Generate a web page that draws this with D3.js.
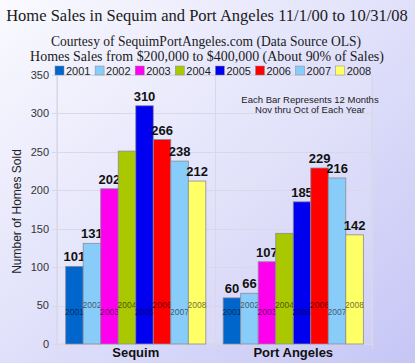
<!DOCTYPE html>
<html>
<head>
<meta charset="utf-8">
<script src="https://cdn.jsdelivr.net/npm/d3@7"></script>
<style>
  body { margin: 0; padding: 0; }
  svg { display: block; }
</style>
</head>
<body>
<div id="chart-holder"></div>
<script>
var towns = ['Sequim', 'Port Angeles'];
var years = ['2001', '2002', '2003', '2004', '2005', '2006', '2007', '2008'];
var sequimSales = [101, 131, 202, 251, 310, 266, 238, 212];
var portAngelesSales = [60, 66, 107, 144, 185, 229, 216, 142];
var valueShown = [true, true, true, false, true, true, true, true];
var yearColors = ['#0066cc', '#88ccfa', '#ff00ee', '#aac800', '#0000f0', '#ff0000', '#88ccfa', '#ffff66'];
var yTicks = [0, 50, 100, 150, 200, 250, 300, 350];

(function () {
    "use strict";
    var width = 415, height = 363,
        plot = { left: 57, right: 372, top: 75, bottom: 344 },
        salesByTown = [sequimSales, portAngelesSales];

    var svg = d3.select('#chart-holder').append('svg')
        .attr('width', width)
        .attr('height', height);

    // background gradient, pale at top-left, lavender at bottom-right
    var defs = svg.append('defs');
    var grad = defs.append('linearGradient')
        .attr('id', 'bg')
        .attr('x1', '0%').attr('y1', '0%')
        .attr('x2', '100%').attr('y2', '100%');
    grad.append('stop').attr('offset', '0%').attr('stop-color', '#fafaff');
    grad.append('stop').attr('offset', '100%').attr('stop-color', '#c6c6f6');

    svg.append('rect')
        .attr('width', width).attr('height', height)
        .attr('fill', 'url(#bg)');

    var x0 = d3.scaleBand().domain(towns).range([plot.left, plot.right]).paddingInner(0.11).paddingOuter(0.055);
    var x1 = d3.scaleBand().domain(years).range([0, x0.bandwidth()]);
    var y = d3.scaleLinear().domain([0, 350]).range([plot.bottom, plot.top]);

    // plot frame and grid
    svg.append('rect')
        .attr('x', plot.left).attr('y', plot.top)
        .attr('width', plot.right - plot.left).attr('height', plot.bottom - plot.top)
        .attr('fill', '#ffffff').attr('fill-opacity', 0.12)
        .attr('stroke', '#d4d4e6').attr('stroke-width', 1);

    svg.append('g').selectAll('line')
        .data(yTicks)
        .join('line')
        .attr('x1', plot.left - 5).attr('x2', plot.right)
        .attr('y1', function (d) { return Math.round(y(d)) + 0.5; })
        .attr('y2', function (d) { return Math.round(y(d)) + 0.5; })
        .attr('stroke', '#d8d8e8');

    // category separators below the axis
    var seps = [plot.left, (x0('Sequim') + x0.bandwidth() + x0('Port Angeles')) / 2, plot.right];
    svg.append('g').selectAll('line')
        .data(seps)
        .join('line')
        .attr('x1', function (d) { return Math.round(d) + 0.5; })
        .attr('x2', function (d) { return Math.round(d) + 0.5; })
        .attr('y1', plot.top).attr('y2', plot.bottom + 5)
        .attr('stroke', '#d8d8e8');

    // y labels
    svg.append('g').selectAll('text')
        .data(yTicks)
        .join('text')
        .attr('x', plot.left - 8)
        .attr('y', function (d) { return y(d); })
        .attr('dy', '0.35em')
        .attr('text-anchor', 'end')
        .style('font', '11px "Liberation Sans", Arial, sans-serif')
        .attr('fill', '#333')
        .text(function (d) { return d; });

    svg.append('text')
        .attr('transform', 'translate(21,' + ((plot.top + plot.bottom) / 2 + 2) + ') rotate(-90)')
        .attr('text-anchor', 'middle')
        .style('font', '12px "Liberation Sans", Arial, sans-serif')
        .attr('fill', '#222')
        .text('Number of Homes Sold');

    // bars
    var groups = svg.append('g').selectAll('g')
        .data(towns)
        .join('g')
        .attr('transform', function (t) { return 'translate(' + x0(t) + ',0)'; });

    var cells = groups.selectAll('g')
        .data(function (t, ti) {
            return years.map(function (yr, i) {
                return { year: yr, i: i, value: salesByTown[ti][i] };
            });
        })
        .join('g');

    cells.append('rect')
        .attr('x', function (d) { return x1(d.year); })
        .attr('y', function (d) { return y(d.value); })
        .attr('width', x1.bandwidth())
        .attr('height', function (d) { return y(0) - y(d.value); })
        .attr('fill', function (d) { return yearColors[d.i]; })
        .attr('stroke', '#8a8a9a')
        .attr('stroke-width', 0.8);

    // year names inside bars, alternating heights
    cells.append('text')
        .attr('x', function (d) { return x1(d.year) + x1.bandwidth() / 2; })
        .attr('y', function (d) { return d.i % 2 === 0 ? 315 : 308; })
        .attr('text-anchor', 'middle')
        .style('font', '8.5px "Liberation Sans", Arial, sans-serif')
        .attr('fill', function (d) { return d3.color(yearColors[d.i]).darker(2.2); })
        .text(function (d) { return d.year; });

    // values above bars
    cells.filter(function (d) { return valueShown[d.i]; })
        .append('text')
        .attr('x', function (d) { return x1(d.year) + x1.bandwidth() / 2; })
        .attr('y', function (d) { return y(d.value) - 5; })
        .attr('text-anchor', 'middle')
        .style('font', 'bold 13px "Liberation Sans", Arial, sans-serif')
        .attr('fill', '#111')
        .text(function (d) { return d.value; });

    // town labels
    svg.append('g').selectAll('text')
        .data(towns)
        .join('text')
        .attr('x', function (t) { return x0(t) + x0.bandwidth() / 2; })
        .attr('y', 357)
        .attr('text-anchor', 'middle')
        .style('font', 'bold 13px "Liberation Sans", Arial, sans-serif')
        .attr('fill', '#111')
        .text(function (t) { return t; });

    // legend
    var legend = svg.append('g').selectAll('g')
        .data(years)
        .join('g')
        .attr('transform', function (d, i) { return 'translate(' + (55 + i * 40.1) + ',66)'; });
    legend.append('rect')
        .attr('width', 9).attr('height', 9)
        .attr('fill', function (d, i) { return yearColors[i]; })
        .attr('stroke', '#8a8a9a').attr('stroke-width', 0.5);
    legend.append('text')
        .attr('x', 11).attr('y', 9)
        .style('font', '11px "Liberation Sans", Arial, sans-serif')
        .attr('fill', '#222')
        .text(function (d) { return d; });

    // note
    var note = svg.append('text')
        .attr('text-anchor', 'middle')
        .style('font', '9.5px "Liberation Sans", Arial, sans-serif')
        .attr('fill', '#222');
    note.append('tspan').attr('x', 310).attr('y', 103).text('Each Bar Represents 12 Months');
    note.append('tspan').attr('x', 310).attr('y', 113).text('Nov thru Oct of Each Year');

    // titles: pick a font size so the line spans the wanted width
    function fitText(txt, cx, cy, wanted, size) {
        var t = svg.append('text')
            .attr('x', cx).attr('y', cy)
            .attr('text-anchor', 'middle')
            .style('font-family', '"Liberation Serif", "DejaVu Serif", serif')
            .style('font-size', size + 'px')
            .attr('fill', '#1a1a1a')
            .text(txt);
        var w = t.node().getComputedTextLength();
        t.style('font-size', (size * wanted / w).toFixed(2) + 'px');
        return t;
    }
    fitText('Home Sales in Sequim and Port Angeles 11/1/00 to 10/31/08', 207, 21, 402, 20);
    fitText('Courtesy of SequimPortAngeles.com (Data Source OLS)', 206, 46, 310, 13);
    fitText('Homes Sales from $200,000 to $400,000 (About 90% of Sales)', 207, 61, 354, 13);
})();
</script>
</body>
</html>
